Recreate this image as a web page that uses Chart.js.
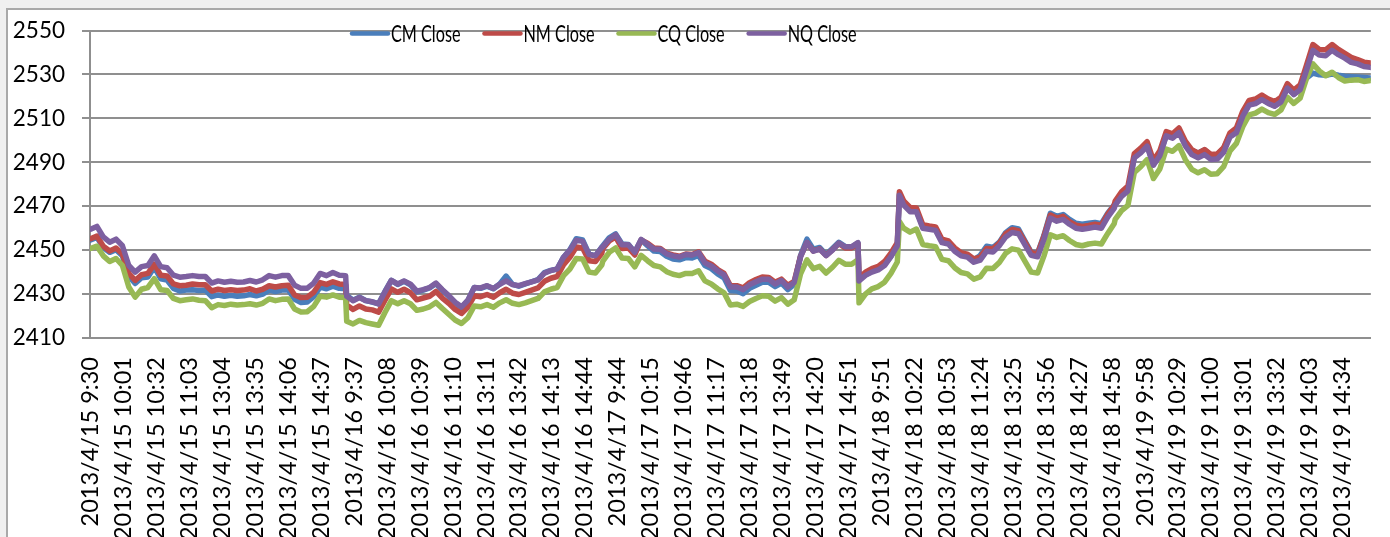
<!DOCTYPE html>
<html>
<head>
<meta charset="utf-8">
<title>IF Close</title>
<script src="https://cdn.jsdelivr.net/npm/chart.js@4.4.1/dist/chart.umd.min.js"></script>
<style>
  html, body { margin: 0; padding: 0; width: 1390px; height: 537px; overflow: hidden; background: #f0f0f0; }
  #frame { position: absolute; left: 6px; top: 8px; width: 1400px; height: 560px; background: #ffffff; border: 2px solid #a9a9a9; }
  #wrap { position: absolute; left: 0; top: 0; width: 1390px; height: 537px; }
</style>
</head>
<body>
<div id="frame"></div>
<div id="wrap"><canvas id="chart" width="1390" height="537"></canvas></div>
<script>
// Trading days and the two sessions of each day
const DAYS = ['2013/4/15', '2013/4/16', '2013/4/17', '2013/4/18', '2013/4/19'];
const SESSIONS = [['9:30', '11:30'], ['13:01', '15:00']];

// Labels printed under the time axis
const TICK_LABELS = [
  '2013/4/15 9:30', '2013/4/15 10:01', '2013/4/15 10:32', '2013/4/15 11:03', '2013/4/15 13:04', '2013/4/15 13:35', '2013/4/15 14:06', '2013/4/15 14:37',
  '2013/4/16 9:37', '2013/4/16 10:08', '2013/4/16 10:39', '2013/4/16 11:10', '2013/4/16 13:11', '2013/4/16 13:42', '2013/4/16 14:13', '2013/4/16 14:44',
  '2013/4/17 9:44', '2013/4/17 10:15', '2013/4/17 10:46', '2013/4/17 11:17', '2013/4/17 13:18', '2013/4/17 13:49', '2013/4/17 14:20', '2013/4/17 14:51',
  '2013/4/18 9:51', '2013/4/18 10:22', '2013/4/18 10:53', '2013/4/18 11:24', '2013/4/18 13:25', '2013/4/18 13:56', '2013/4/18 14:27', '2013/4/18 14:58',
  '2013/4/19 9:58', '2013/4/19 10:29', '2013/4/19 11:00', '2013/4/19 13:01', '2013/4/19 13:32', '2013/4/19 14:03', '2013/4/19 14:34'
];

// Minutes into each trading day at which the closes are listed
const SAMPLE_MIN = [0, 6, 12, 18, 24, 30, 36, 42, 48, 54, 60, 66, 72, 78, 84, 90, 96, 102, 108, 114, 120,
  126, 132, 138, 144, 150, 156, 162, 168, 174, 180, 186, 192, 198, 204, 210, 216, 222, 228, 234, 240];
// 4/18 also keeps the 10:07 spike
const SAMPLE_MIN_0418 = [0, 6, 12, 18, 24, 30, 36, 38, 42, 48, 54, 60, 66, 72, 78, 84, 90, 96, 102, 108, 114, 120,
  126, 132, 138, 144, 150, 156, 162, 168, 174, 180, 186, 192, 198, 204, 210, 216, 222, 228, 234, 240];

// Current-month contract
const CM_CLOSE = [
  2454.6, 2455.8, 2451.2, 2449.0, 2450.2, 2447.4, 2438.2, 2434.8, 2437.4, 2437.8, 2442.2, 2437.0, 2436.4, 2432.6, 2431.4, 2431.8, 2432.0, 2431.6, 2431.8, 2428.8, 2429.6, 2429.0, 2429.4, 2429.0, 2429.2, 2429.8, 2429.2, 2430.0, 2431.8, 2431.2, 2431.8, 2432.0, 2427.6, 2426.2, 2426.4, 2428.8, 2433.2, 2432.4, 2433.6, 2432.6, 2432.4,
  2429.4, 2427.2, 2428.6, 2427.0, 2426.4, 2425.6, 2431.2, 2436.2, 2434.4, 2435.8, 2434.2, 2431.0, 2431.8, 2432.8, 2434.8, 2431.6, 2429.0, 2426.0, 2423.8, 2427.0, 2433.0, 2432.6, 2433.6, 2432.4, 2434.6, 2438.2, 2434.4, 2433.6, 2434.6, 2435.6, 2436.6, 2439.8, 2440.8, 2441.4, 2446.8, 2450.2, 2455.2, 2454.6, 2448.2, 2447.4, 2451.4,
  2452.0, 2455.6, 2457.4, 2452.8, 2452.6, 2449.0, 2454.6, 2452.0, 2449.6, 2449.4, 2447.2, 2446.0, 2445.6, 2446.6, 2446.4, 2447.6, 2443.0, 2441.6, 2439.2, 2437.4, 2431.6, 2431.4, 2430.2, 2432.6, 2434.0, 2435.4, 2435.4, 2433.4, 2435.0, 2432.0, 2434.4, 2447.6, 2455.0, 2450.4, 2451.2, 2448.0, 2450.8, 2453.6, 2451.6, 2451.4, 2453.2,
  2436.4, 2438.8, 2440.4, 2441.6, 2443.4, 2447.2, 2452.4, 2475.6, 2471.0, 2468.0, 2468.0, 2460.6, 2460.0, 2459.8, 2454.2, 2453.6, 2450.4, 2448.4, 2447.8, 2445.6, 2447.6, 2451.8, 2451.2, 2453.6, 2458.0, 2460.2, 2459.6, 2454.2, 2449.0, 2448.6, 2456.8, 2466.8, 2465.4, 2466.2, 2464.0, 2462.2, 2461.8, 2462.2, 2462.6, 2462.0, 2466.8, 2470.6,
  2471.0, 2475.0, 2477.4, 2492.4, 2494.8, 2497.6, 2489.2, 2493.4, 2502.2, 2501.4, 2503.8, 2498.2, 2495.4, 2494.2, 2495.6, 2493.4, 2493.6, 2496.4, 2502.4, 2504.0, 2511.4, 2516.4, 2517.0, 2518.8, 2517.0, 2515.8, 2517.8, 2524.0, 2521.0, 2523.4, 2528.4, 2530.6, 2529.8, 2529.6, 2530.2, 2529.6, 2529.2, 2529.0, 2528.8, 2528.6, 2528.4
];

// Next-month contract
const NM_CLOSE = [
  2455.2, 2456.4, 2451.8, 2449.6, 2451.0, 2448.2, 2439.4, 2436.2, 2438.8, 2439.4, 2443.6, 2438.6, 2438.2, 2434.6, 2433.8, 2434.0, 2434.6, 2434.2, 2434.2, 2431.4, 2432.2, 2431.6, 2432.0, 2431.6, 2431.8, 2432.4, 2431.4, 2432.2, 2433.8, 2433.2, 2433.8, 2434.0, 2429.6, 2428.4, 2428.6, 2430.8, 2435.2, 2434.4, 2435.6, 2434.6, 2434.4,
  2425.0, 2423.0, 2424.6, 2423.2, 2422.8, 2421.8, 2427.2, 2432.4, 2430.8, 2432.2, 2430.6, 2427.4, 2428.2, 2429.0, 2431.2, 2428.2, 2425.8, 2423.0, 2421.2, 2424.0, 2429.2, 2428.8, 2429.8, 2428.6, 2430.6, 2432.2, 2430.4, 2429.8, 2430.8, 2431.8, 2432.8, 2435.8, 2437.2, 2438.0, 2443.4, 2446.8, 2451.4, 2451.0, 2445.2, 2444.8, 2448.6,
  2450.8, 2454.2, 2456.0, 2450.8, 2451.0, 2447.8, 2454.6, 2453.2, 2451.0, 2450.8, 2448.6, 2447.8, 2447.2, 2448.2, 2448.0, 2449.2, 2445.0, 2443.6, 2441.2, 2439.4, 2433.8, 2433.8, 2432.8, 2435.2, 2436.6, 2437.8, 2437.6, 2435.4, 2436.8, 2434.0, 2435.8, 2447.2, 2453.4, 2449.6, 2450.6, 2447.6, 2450.2, 2453.0, 2451.0, 2451.0, 2452.8,
  2437.2, 2440.0, 2441.6, 2442.6, 2444.8, 2448.6, 2453.4, 2476.6, 2472.4, 2469.4, 2469.2, 2461.6, 2461.0, 2460.6, 2455.0, 2454.2, 2451.0, 2448.8, 2448.2, 2446.0, 2446.8, 2450.8, 2450.6, 2453.2, 2457.4, 2459.4, 2458.8, 2453.8, 2448.8, 2448.4, 2456.4, 2466.0, 2464.6, 2465.4, 2463.0, 2461.4, 2460.8, 2461.2, 2461.8, 2461.4, 2466.4, 2470.4,
  2472.4, 2476.6, 2479.2, 2494.0, 2496.4, 2499.4, 2490.8, 2495.2, 2504.0, 2503.0, 2505.6, 2499.6, 2495.8, 2494.2, 2495.8, 2493.6, 2493.8, 2496.6, 2503.4, 2505.6, 2513.2, 2518.2, 2518.8, 2520.6, 2518.8, 2517.6, 2519.6, 2525.8, 2522.8, 2525.2, 2534.2, 2543.6, 2541.4, 2541.2, 2543.6, 2541.4, 2539.6, 2537.8, 2536.8, 2535.6, 2535.2
];

// Current-quarter contract
const CQ_CLOSE = [
  2450.8, 2451.8, 2447.4, 2444.8, 2446.2, 2443.0, 2433.2, 2428.6, 2432.2, 2433.0, 2437.0, 2432.0, 2431.6, 2428.0, 2427.0, 2427.4, 2427.8, 2427.2, 2427.0, 2423.8, 2425.2, 2424.8, 2425.4, 2425.0, 2425.2, 2425.6, 2425.0, 2425.8, 2427.8, 2427.0, 2427.6, 2427.8, 2423.2, 2421.8, 2422.0, 2424.4, 2429.0, 2428.6, 2429.6, 2428.6, 2428.4,
  2417.6, 2416.4, 2418.0, 2417.0, 2416.4, 2415.8, 2421.6, 2427.0, 2425.6, 2427.0, 2425.6, 2422.6, 2423.2, 2424.2, 2426.2, 2423.4, 2420.8, 2418.2, 2416.6, 2419.2, 2424.6, 2424.2, 2425.2, 2424.0, 2426.0, 2427.4, 2425.8, 2425.2, 2426.0, 2427.0, 2428.0, 2431.0, 2432.2, 2433.0, 2438.4, 2441.4, 2446.2, 2446.0, 2440.0, 2439.6, 2443.2,
  2445.0, 2449.0, 2451.0, 2446.4, 2446.2, 2442.4, 2447.6, 2445.2, 2443.0, 2442.4, 2440.2, 2439.0, 2438.4, 2439.4, 2439.4, 2440.6, 2436.0, 2434.6, 2432.4, 2430.6, 2425.0, 2425.4, 2424.4, 2426.6, 2428.0, 2429.2, 2429.0, 2426.8, 2428.4, 2425.4, 2427.4, 2439.2, 2445.6, 2441.6, 2442.6, 2439.6, 2442.2, 2445.4, 2443.6, 2443.6, 2445.6,
  2426.0, 2430.0, 2432.4, 2433.4, 2435.4, 2439.4, 2444.6, 2463.0, 2460.0, 2458.2, 2459.6, 2452.6, 2452.0, 2451.6, 2445.8, 2445.2, 2442.0, 2439.8, 2439.2, 2436.8, 2437.8, 2441.8, 2441.6, 2444.4, 2448.6, 2450.6, 2450.0, 2445.0, 2440.0, 2439.6, 2447.4, 2457.0, 2455.8, 2456.6, 2454.4, 2452.6, 2452.0, 2452.8, 2453.2, 2452.8, 2457.6, 2462.0,
  2464.0, 2468.0, 2470.4, 2485.4, 2488.0, 2491.2, 2482.6, 2487.0, 2496.0, 2495.0, 2497.6, 2491.2, 2486.8, 2485.2, 2486.6, 2484.6, 2484.8, 2488.0, 2495.2, 2498.6, 2506.2, 2511.6, 2512.4, 2514.2, 2512.6, 2511.8, 2513.8, 2519.6, 2516.8, 2519.2, 2528.2, 2534.8, 2531.6, 2529.4, 2531.0, 2528.6, 2527.0, 2527.4, 2527.6, 2526.8, 2527.2
];

// Next-quarter contract
const NQ_CLOSE = [
  2459.5, 2460.8, 2456.0, 2453.6, 2455.0, 2452.0, 2443.0, 2440.0, 2442.5, 2443.0, 2447.4, 2442.5, 2442.0, 2438.6, 2437.7, 2438.0, 2438.4, 2438.0, 2438.0, 2435.0, 2436.0, 2435.4, 2435.8, 2435.4, 2435.5, 2436.2, 2435.5, 2436.5, 2438.4, 2437.7, 2438.4, 2438.4, 2434.0, 2432.6, 2432.7, 2435.0, 2439.4, 2438.4, 2439.8, 2438.6, 2438.4,
  2429.0, 2427.0, 2428.4, 2427.0, 2426.5, 2425.5, 2431.0, 2436.2, 2434.6, 2436.0, 2434.5, 2431.3, 2432.0, 2433.0, 2435.0, 2432.0, 2429.3, 2426.3, 2424.2, 2427.2, 2433.0, 2432.8, 2433.8, 2432.5, 2434.5, 2436.0, 2434.3, 2433.8, 2434.7, 2435.6, 2436.5, 2439.5, 2440.7, 2441.5, 2446.7, 2450.0, 2454.5, 2454.0, 2448.0, 2447.5, 2451.2,
  2451.5, 2455.0, 2457.0, 2452.5, 2452.5, 2449.0, 2454.9, 2452.7, 2450.5, 2450.4, 2448.3, 2447.4, 2446.9, 2448.0, 2447.8, 2448.9, 2444.2, 2442.8, 2440.6, 2438.8, 2433.2, 2433.2, 2432.0, 2434.2, 2435.6, 2436.8, 2436.8, 2434.6, 2436.2, 2433.2, 2435.3, 2447.0, 2453.5, 2449.5, 2450.5, 2447.5, 2450.0, 2453.2, 2451.5, 2451.5, 2453.4,
  2436.0, 2438.5, 2440.0, 2441.0, 2443.0, 2447.0, 2452.0, 2475.0, 2470.5, 2467.5, 2467.5, 2460.0, 2459.5, 2459.0, 2453.4, 2452.8, 2449.5, 2447.4, 2446.8, 2444.5, 2445.4, 2449.5, 2449.2, 2452.0, 2456.0, 2458.0, 2457.5, 2452.5, 2447.6, 2447.0, 2455.0, 2464.6, 2463.2, 2464.0, 2461.8, 2460.0, 2459.5, 2460.0, 2460.5, 2460.0, 2465.0, 2469.0,
  2470.5, 2474.5, 2477.0, 2492.0, 2494.3, 2497.3, 2488.7, 2493.0, 2502.0, 2501.0, 2503.5, 2497.5, 2493.5, 2492.0, 2493.5, 2491.3, 2491.5, 2494.5, 2501.5, 2503.5, 2511.0, 2516.0, 2516.7, 2518.5, 2516.8, 2515.5, 2517.5, 2523.8, 2520.8, 2523.1, 2532.0, 2541.0, 2538.8, 2538.5, 2541.0, 2539.0, 2537.4, 2535.5, 2534.8, 2533.6, 2533.2
];

const SERIES_NAMES = ['CM Close', 'NM Close', 'CQ Close', 'NQ Close'];
const SERIES_COLORS = ['#4a7ebb', '#be4b48', '#98b954', '#7d60a0'];

// ---- minute-by-minute category axis ----
function toMinutes(t) { const [h, m] = t.split(':').map(Number); return h * 60 + m; }
function fmtTime(m) { return Math.floor(m / 60) + ':' + String(m % 60).padStart(2, '0'); }

const CATEGORIES = [];
const DAY_START = [];
DAYS.forEach(day => {
  DAY_START.push(CATEGORIES.length);
  SESSIONS.forEach(([a, b]) => {
    for (let m = toMinutes(a); m <= toMinutes(b); m++) CATEGORIES.push(day + ' ' + fmtTime(m));
  });
});
const TICK_INDEX = TICK_LABELS.map(l => CATEGORIES.indexOf(l));

// position of every listed close on the category axis
const SAMPLE_INDEX = [];
DAYS.forEach((day, d) => {
  const mins = day === '2013/4/18' ? SAMPLE_MIN_0418 : SAMPLE_MIN;
  mins.forEach(m => SAMPLE_INDEX.push(DAY_START[d] + m));
});

const toPoints = vals => vals.map((v, i) => ({ x: SAMPLE_INDEX[i], y: v }));
const SERIES_VALUES = [CM_CLOSE, NM_CLOSE, CQ_CLOSE, NQ_CLOSE];

// key drawn across the top of the plot, narrow type as in the sheet's legend
const seriesKey = {
  id: 'seriesKey',
  afterDraw(chart, args, o) {
    const ctx = chart.ctx;
    ctx.save();
    ctx.font = o.font;
    ctx.textBaseline = 'alphabetic';
    ctx.lineCap = 'round';
    let x = o.x;
    chart.data.datasets.forEach(ds => {
      ctx.strokeStyle = ds.borderColor;
      ctx.lineWidth = o.lineWidth;
      ctx.beginPath();
      ctx.moveTo(x + 2, o.y);
      ctx.lineTo(x + o.lineLength - 2, o.y);
      ctx.stroke();
      x += o.lineLength + o.textGap;
      const w = ctx.measureText(ds.label).width;
      ctx.save();
      ctx.translate(x, o.textY);
      ctx.scale(o.squeeze, 1);
      ctx.fillStyle = '#000';
      ctx.fillText(ds.label, 0, 0);
      ctx.restore();
      x += w * o.squeeze + o.itemGap;
    });
    ctx.restore();
  }
};

const GRID = '#8f8f8f';

new Chart(document.getElementById('chart'), {
  type: 'line',
  data: {
    datasets: SERIES_NAMES.map((name, i) => ({
      label: name,
      data: toPoints(SERIES_VALUES[i]),
      borderColor: SERIES_COLORS[i],
      backgroundColor: SERIES_COLORS[i],
      order: SERIES_NAMES.length - 1 - i
    }))
  },
  plugins: [seriesKey],
  options: {
    responsive: false,
    animation: false,
    events: [],
    layout: { padding: { left: 0, right: 6, top: 27, bottom: 0 } },
    elements: {
      point: { radius: 0 },
      line: { borderWidth: 5.5, tension: 0, borderJoinStyle: 'round', borderCapStyle: 'round' }
    },
    plugins: {
      legend: { display: false },
      tooltip: { enabled: false },
      seriesKey: { x: 350, y: 33.5, lineLength: 40, lineWidth: 4.5, textGap: 1, squeeze: 0.705, itemGap: 22, textY: 42, font: '23px Lato' }
    },
    scales: {
      x: {
        type: 'linear',
        min: -0.5,
        max: CATEGORIES.length - 0.5,
        afterBuildTicks(axis) { axis.ticks = TICK_INDEX.map(v => ({ value: v })); },
        afterFit(axis) { axis.height = 199; },
        ticks: {
          autoSkip: false, minRotation: 90, maxRotation: 90, padding: 19,
          color: '#000', font: { family: 'Lato', size: 23.5 },
          callback: v => CATEGORIES[v]
        },
        grid: { display: false, drawTicks: false },
        border: { display: true, color: GRID, width: 2 }
      },
      y: {
        min: 2410,
        max: 2550,
        afterFit(axis) { axis.width = 90; },
        ticks: {
          stepSize: 20, padding: 17, color: '#000', font: { family: 'Lato', size: 22.5 },
          callback: v => String(v)
        },
        grid: { color: GRID, lineWidth: 2, tickLength: 8, drawTicks: true },
        border: { display: true, color: GRID, width: 2 }
      }
    }
  }
});
</script>
</body>
</html>
